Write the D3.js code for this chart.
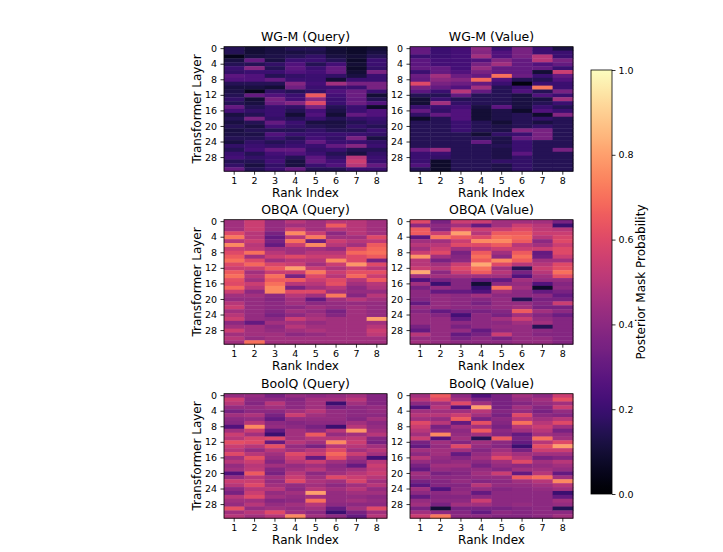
<!DOCTYPE html>
<html>
<head>
<meta charset="utf-8">
<script src="https://cdn.jsdelivr.net/npm/d3@7"></script>
<style>
  body { margin: 0; background: #fff; }
  svg { display: block; font-family: "DejaVu Sans", sans-serif; }
</style>
</head>
<body>
<svg id="chart" width="723" height="552"></svg>
<script>
// ranks on x, transformer layers on y
const ranks = [1, 2, 3, 4, 5, 6, 7, 8];
const layers = d3.range(32);
const layerTicks = [0, 4, 8, 12, 16, 20, 24, 28];
const cbTicks = [0, 0.2, 0.4, 0.6, 0.8, 1.0];
const panelTitles = ["WG-M (Query)", "WG-M (Value)", "OBQA (Query)", "OBQA (Value)", "BoolQ (Query)", "BoolQ (Value)"];

// each panel: one array per rank index, 32 layer values (0 -> 31)
const wgmQuery = [
  [.15,.15,.05,.12,.15,.2,.18,.28,.25,.15,.12,.13,.15,.18,.15,.3,.22,.12,.15,.12,.15,.12,.13,.15,.12,.18,.15,.2,.22,.15,.18,.3],
  [.1,.1,.12,.3,.15,.38,.2,.25,.25,.15,.12,.05,.3,.1,.12,.15,.18,.15,.35,.15,.12,.15,.13,.15,.18,.2,.22,.15,.18,.15,.12,.15],
  [.12,.12,.13,.12,.18,.15,.2,.15,.3,.15,.1,.18,.25,.35,.32,.2,.2,.2,.18,.3,.22,.15,.25,.2,.15,.18,.3,.22,.2,.22,.18,.2],
  [.15,.12,.15,.2,.25,.28,.25,.18,.2,.38,.33,.15,.2,.22,.38,.18,.15,.1,.15,.2,.18,.15,.2,.15,.18,.2,.3,.25,.15,.12,.12,.3],
  [.15,.13,.18,.2,.15,.2,.22,.2,.2,.22,.2,.18,.65,.4,.6,.35,.22,.25,.2,.12,.15,.18,.2,.22,.3,.2,.18,.2,.28,.3,.2,.15],
  [.1,.1,.12,.15,.22,.3,.3,.18,.1,.45,.2,.25,.22,.2,.2,.15,.13,.1,.15,.12,.13,.15,.2,.18,.2,.3,.2,.15,.18,.22,.25,.15],
  [.08,.08,.1,.08,.1,.08,.1,.12,.2,.35,.2,.32,.32,.3,.32,.2,.2,.3,.18,.15,.18,.15,.2,.35,.2,.38,.15,.12,.5,.55,.5,.2],
  [.1,.12,.15,.2,.2,.18,.35,.2,.2,.35,.35,.2,.1,.15,.25,.08,.25,.25,.2,.18,.15,.2,.18,.12,.18,.2,.15,.18,.2,.2,.3,.2]
];
const wgmValue = [
  [.3,.3,.2,.28,.28,.3,.2,.32,.3,.6,.35,.28,.15,.1,.1,.2,.3,.18,.08,.15,.15,.15,.15,.15,.15,.15,.32,.2,.2,.2,.25,.15],
  [.2,.2,.2,.22,.22,.3,.3,.45,.4,.35,.3,.2,.15,.2,.45,.2,.18,.3,.15,.15,.15,.15,.15,.15,.15,.15,.42,.2,.18,.08,.08,.08],
  [.22,.22,.22,.22,.22,.22,.25,.32,.38,.32,.25,.5,.3,.15,.18,.22,.25,.25,.25,.2,.2,.2,.15,.15,.15,.15,.15,.15,.15,.15,.15,.15],
  [.4,.38,.45,.25,.35,.42,.35,.3,.68,.3,.45,.3,.15,.15,.15,.12,.1,.1,.1,.15,.15,.15,.1,.15,.3,.15,.15,.15,.15,.15,.15,.15],
  [.2,.25,.25,.38,.45,.3,.3,.7,.25,.2,.15,.15,.15,.15,.15,.28,.13,.13,.13,.1,.13,.13,.18,.13,.13,.15,.13,.13,.13,.18,.13,.13],
  [.35,.35,.35,.3,.3,.3,.3,.32,.15,.03,.2,.25,.12,.12,.12,.12,.08,.15,.15,.15,.15,.38,.2,.3,.2,.2,.2,.28,.18,.18,.18,.18],
  [.2,.2,.5,.5,.25,.3,.1,.2,.15,.2,.72,.15,.25,.12,.15,.2,.25,.08,.18,.12,.18,.35,.35,.35,.15,.15,.15,.15,.15,.15,.15,.15],
  [.12,.2,.2,.35,.3,.2,.55,.3,.25,.2,.2,.35,.2,.45,.2,.15,.2,.38,.15,.15,.15,.15,.15,.15,.15,.15,.35,.15,.15,.15,.15,.15]
];
const obqaQuery = [
  [.45,.45,.45,.6,.72,.5,.75,.55,.6,.65,.7,.6,.55,.65,.7,.62,.6,.68,.55,.45,.42,.5,.55,.45,.5,.55,.4,.45,.55,.45,.5,.45],
  [.55,.55,.55,.5,.5,.55,.5,.52,.7,.45,.6,.68,.55,.45,.5,.45,.55,.5,.4,.45,.42,.42,.42,.42,.42,.42,.3,.45,.45,.45,.42,.7],
  [.42,.42,.42,.35,.3,.35,.3,.45,.5,.55,.45,.58,.65,.55,.7,.65,.7,.75,.75,.4,.38,.4,.4,.38,.35,.4,.45,.4,.42,.45,.45,.45],
  [.5,.45,.55,.75,.5,.7,.55,.45,.45,.6,.5,.55,.8,.55,.35,.65,.5,.35,.6,.5,.45,.45,.4,.45,.4,.55,.45,.5,.45,.4,.45,.45],
  [.45,.45,.45,.55,.72,.32,.75,.45,.5,.55,.5,.45,.55,.72,.6,.55,.5,.45,.6,.45,.3,.4,.45,.42,.45,.48,.42,.45,.48,.42,.45,.45],
  [.5,.65,.5,.4,.45,.55,.5,.42,.5,.55,.75,.55,.48,.55,.5,.6,.62,.5,.45,.72,.45,.42,.42,.35,.38,.45,.45,.45,.45,.45,.45,.45],
  [.5,.5,.5,.5,.45,.5,.45,.6,.68,.6,.6,.78,.55,.62,.68,.5,.45,.4,.42,.38,.5,.42,.45,.45,.45,.45,.45,.45,.45,.45,.45,.45],
  [.45,.45,.45,.45,.6,.52,.65,.68,.7,.65,.35,.6,.5,.62,.55,.65,.5,.48,.42,.5,.45,.42,.42,.42,.42,.8,.45,.5,.55,.52,.45,.45]
];
const obqaValue = [
  [.6,.4,.65,.65,.28,.45,.5,.45,.55,.78,.5,.5,.55,.82,.45,.25,.45,.35,.4,.4,.38,.3,.42,.38,.42,.42,.42,.35,.3,.5,.42,.45],
  [.35,.4,.38,.55,.72,.45,.5,.55,.6,.45,.35,.45,.5,.4,.45,.35,.2,.42,.3,.42,.42,.42,.42,.3,.38,.42,.42,.42,.42,.42,.42,.42],
  [.55,.45,.6,.8,.65,.55,.6,.45,.35,.38,.4,.55,.6,.55,.45,.38,.38,.38,.3,.4,.4,.4,.4,.35,.22,.3,.4,.35,.42,.3,.35,.4],
  [.55,.3,.55,.5,.6,.75,.6,.5,.65,.7,.65,.82,.7,.65,.45,.3,.1,.2,.25,.45,.38,.35,.4,.35,.4,.4,.4,.4,.3,.35,.4,.4],
  [.45,.45,.55,.65,.7,.75,.65,.55,.45,.4,.75,.6,.45,.5,.45,.3,.4,.7,.45,.4,.42,.42,.42,.38,.35,.45,.4,.42,.4,.55,.35,.4],
  [.45,.55,.6,.65,.68,.65,.5,.55,.65,.7,.65,.5,.15,.35,.25,.45,.42,.45,.4,.4,.15,.42,.45,.65,.45,.55,.45,.42,.42,.42,.42,.42],
  [.45,.5,.52,.55,.5,.4,.45,.55,.3,.32,.45,.5,.55,.5,.45,.42,.25,.08,.3,.4,.35,.38,.35,.45,.38,.42,.45,.15,.4,.38,.42,.42],
  [.35,.2,.5,.55,.58,.6,.55,.6,.6,.55,.45,.6,.62,.7,.62,.42,.38,.4,.35,.3,.35,.55,.35,.4,.32,.38,.38,.38,.38,.38,.38,.38]
];
const boolqQuery = [
  [.42,.55,.5,.42,.35,.45,.4,.38,.25,.45,.55,.5,.62,.55,.5,.6,.45,.5,.42,.45,.25,.42,.55,.5,.4,.35,.5,.45,.42,.62,.45,.5],
  [.42,.4,.38,.42,.4,.48,.42,.5,.75,.55,.45,.58,.6,.5,.42,.5,.62,.55,.5,.52,.65,.5,.55,.6,.5,.55,.6,.45,.5,.42,.5,.45],
  [.35,.4,.5,.45,.4,.35,.3,.4,.42,.3,.2,.6,.3,.62,.5,.45,.42,.38,.45,.38,.35,.45,.42,.45,.5,.42,.45,.38,.42,.45,.6,.5],
  [.42,.38,.4,.4,.45,.55,.42,.38,.4,.45,.45,.45,.5,.42,.45,.6,.55,.5,.42,.45,.5,.55,.6,.42,.4,.45,.42,.4,.45,.42,.45,.75],
  [.4,.45,.45,.45,.5,.45,.42,.4,.35,.4,.65,.5,.45,.35,.5,.55,.3,.55,.45,.5,.4,.45,.48,.45,.5,.8,.45,.7,.5,.45,.4,.45],
  [.42,.45,.2,.35,.42,.42,.42,.4,.2,.5,.42,.5,.75,.5,.6,.68,.62,.45,.4,.42,.45,.6,.45,.4,.45,.42,.42,.42,.4,.3,.2,.4],
  [.45,.5,.45,.4,.4,.4,.38,.45,.5,.78,.45,.52,.55,.5,.45,.55,.45,.4,.3,.45,.5,.55,.58,.45,.5,.45,.42,.45,.4,.45,.35,.3],
  [.38,.38,.38,.42,.42,.4,.45,.4,.42,.45,.5,.38,.35,.45,.5,.45,.22,.5,.55,.52,.55,.5,.45,.5,.42,.45,.4,.42,.4,.6,.45,.5]
];
const boolqValue = [
  [.45,.5,.4,.25,.45,.5,.45,.6,.55,.5,.45,.55,.35,.3,.45,.4,.5,.42,.35,.3,.45,.42,.35,.28,.45,.4,.3,.42,.45,.35,.45,.55],
  [.65,.6,.45,.5,.45,.5,.42,.5,.35,.4,.75,.25,.45,.42,.45,.45,.42,.4,.45,.42,.35,.4,.38,.38,.25,.4,.38,.4,.35,.1,.4,.72],
  [.4,.45,.6,.25,.45,.55,.65,.3,.45,.4,.42,.45,.38,.6,.45,.3,.38,.42,.45,.4,.38,.4,.42,.38,.4,.42,.38,.4,.45,.35,.38,.4],
  [.25,.35,.45,.8,.5,.45,.35,.62,.45,.65,.45,.15,.45,.42,.38,.42,.45,.4,.35,.42,.45,.42,.38,.5,.42,.3,.4,.55,.45,.35,.3,.4],
  [.35,.35,.35,.35,.38,.35,.4,.38,.35,.4,.38,.65,.4,.38,.45,.5,.6,.45,.42,.38,.55,.42,.4,.42,.38,.4,.4,.4,.4,.35,.4,.38],
  [.45,.42,.38,.45,.42,.6,.5,.7,.5,.45,.3,.35,.3,.2,.35,.45,.5,.6,.4,.45,.3,.65,.45,.42,.4,.4,.4,.4,.42,.38,.38,.38],
  [.4,.45,.42,.38,.35,.4,.45,.5,.55,.5,.45,.7,.5,.62,.55,.45,.35,.45,.42,.45,.5,.7,.5,.45,.42,.4,.4,.4,.4,.4,.4,.4],
  [.55,.62,.45,.55,.42,.38,.5,.6,.45,.35,.42,.45,.6,.8,.55,.45,.38,.5,.45,.42,.3,.45,.75,.5,.45,.2,.3,.45,.42,.15,.4,.45]
];
const panels = [wgmQuery, wgmValue, obqaQuery, obqaValue, boolqQuery, boolqValue];

const svg = d3.select("#chart");
const color = d3.scaleSequential(d3.interpolateMagma).domain([0, 1]);

const colLeft = [224, 410];
const rowTop = [46.7, 219.7, 393.7];
const pw = 163, ph = 124.5;

panels.forEach((data, i) => {
  const col = i % 2, row = Math.floor(i / 2);
  const g = svg.append("g").attr("transform", `translate(${colLeft[col]},${rowTop[row]})`);

  const x = d3.scaleBand().domain(ranks).range([0, pw]);
  const y = d3.scaleBand().domain(layers).range([0, ph]);

  const cells = [];
  data.forEach((vals, ri) => vals.forEach((v, li) => cells.push({ rank: ranks[ri], layer: li, v })));

  g.append("g")
    .selectAll("rect")
    .data(cells)
    .join("rect")
    .attr("x", d => x(d.rank))
    .attr("y", d => y(d.layer))
    .attr("width", x.bandwidth() + 0.4)
    .attr("height", y.bandwidth() + 0.4)
    .attr("fill", d => color(d.v));

  g.append("rect")
    .attr("width", pw).attr("height", ph)
    .attr("fill", "none").attr("stroke", "#000").attr("stroke-width", 0.8);

  const yAxis = g.append("g")
    .call(d3.axisLeft(y).tickValues(layerTicks).tickSize(3.5).tickPadding(3.5));
  const xAxis = g.append("g")
    .attr("transform", `translate(0,${ph})`)
    .call(d3.axisBottom(x).tickSize(3.5).tickPadding(3));
  [yAxis, xAxis].forEach(a => {
    a.select(".domain").remove();
    a.selectAll("line").attr("stroke", "#000").attr("stroke-width", 0.8);
    a.selectAll("text").attr("fill", "#000").style("font-size", "9.5px").style("font-family", "DejaVu Sans, sans-serif");
  });

  g.append("text")
    .attr("x", pw / 2).attr("y", -5.5)
    .attr("text-anchor", "middle")
    .style("font-size", "12.5px")
    .text(panelTitles[i]);

  g.append("text")
    .attr("x", pw / 2).attr("y", ph + 26)
    .attr("text-anchor", "middle")
    .style("font-size", "12px")
    .text("Rank Index");

  if (col === 0) {
    g.append("text")
      .attr("transform", `translate(-23,${ph / 2}) rotate(-90)`)
      .attr("text-anchor", "middle")
      .style("font-size", "12px")
      .text("Transformer Layer");
  }
});

// colorbar
const cbX = 591, cbY = 70, cbW = 21, cbH = 424;
const cbScale = d3.scaleLinear().domain([0, 1]).range([cbY + cbH, cbY]);
const grad = svg.append("defs").append("linearGradient")
  .attr("id", "cbgrad").attr("x1", 0).attr("y1", 1).attr("x2", 0).attr("y2", 0);
grad.selectAll("stop")
  .data(d3.range(0, 1.0001, 0.02))
  .join("stop")
  .attr("offset", d => d)
  .attr("stop-color", d => color(d));
svg.append("rect")
  .attr("x", cbX).attr("y", cbY).attr("width", cbW).attr("height", cbH)
  .attr("fill", "url(#cbgrad)").attr("stroke", "#000").attr("stroke-width", 0.8);
const cbAxis = svg.append("g")
  .attr("transform", `translate(${cbX + cbW},0)`)
  .call(d3.axisRight(cbScale).tickValues(cbTicks).tickFormat(d3.format(".1f")).tickSize(3.5).tickPadding(3));
cbAxis.select(".domain").remove();
cbAxis.selectAll("line").attr("stroke", "#000").attr("stroke-width", 0.8);
cbAxis.selectAll("text").attr("fill", "#000").style("font-size", "9.5px").style("font-family", "DejaVu Sans, sans-serif");
svg.append("text")
  .attr("transform", `translate(645,${cbY + cbH / 2}) rotate(-90)`)
  .attr("text-anchor", "middle")
  .style("font-size", "12px")
  .text("Posterior Mask Probability");
</script>
</body>
</html>
